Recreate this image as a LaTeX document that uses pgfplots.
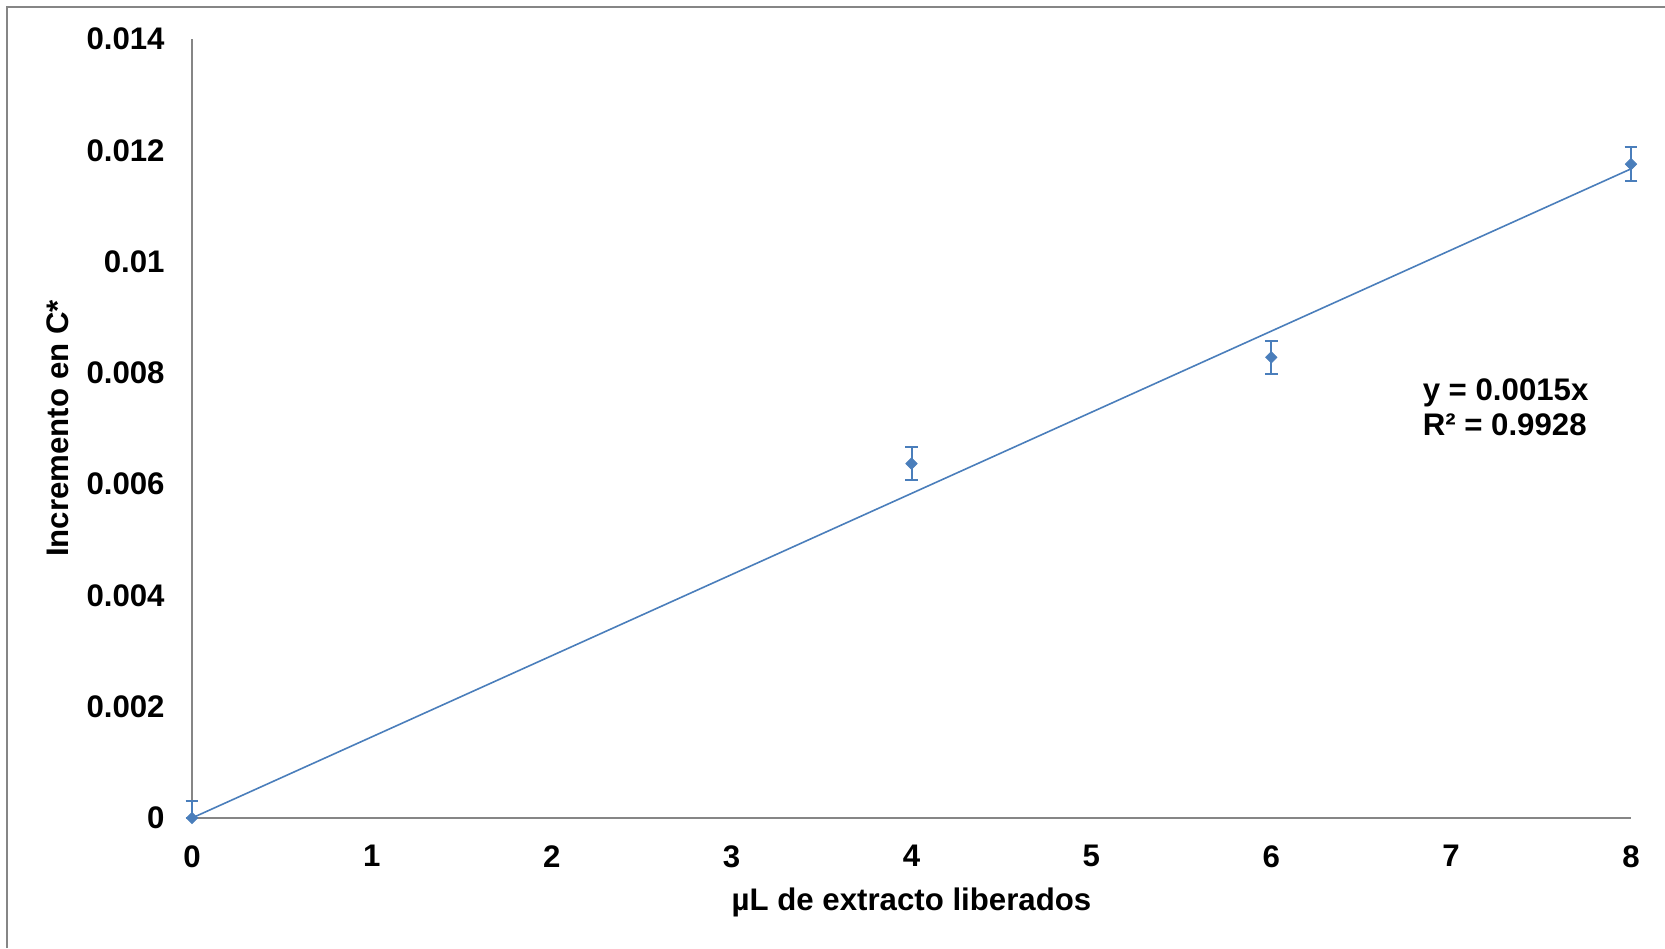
\documentclass[border=0pt]{standalone}
\usepackage{pgfplots}
\pgfplotsset{compat=1.18}
\usepackage{fontspec}
\setmainfont{Liberation Sans}
\definecolor{xlblue}{HTML}{4A7EBB}
\definecolor{axgray}{HTML}{868686}
\begin{document}
\begin{tikzpicture}
\path[use as bounding box] (0,0) rectangle (832.5pt,474pt);
\draw[color=axgray, line width=1pt] (3.5pt,0) -- (3.5pt,470.5pt) -- (832.5pt,470.5pt);
\begin{axis}[
  at={(96pt,65pt)}, anchor=south west,
  scale only axis, width=719.5pt, height=389.5pt,
  xmin=0, xmax=8, ymin=0, ymax=0.014,
  clip=false,
  axis x line=bottom, axis y line=left,
  axis line style={-, draw=axgray, line width=0.8pt},
  major tick length=0pt,
  xtick={0,1,2,3,4,5,6,7,8},
  xticklabels={0,1,2,3,4,5,6,7,8},
  ytick={0,0.002,0.004,0.006,0.008,0.01,0.012,0.014},
  yticklabels={0,0.002,0.004,0.006,0.008,0.01,0.012,0.014},
  scaled y ticks=false,
  every tick label/.append style={font=\fontsize{15.6}{18}\selectfont\bfseries, inner sep=0pt},
  yticklabel style={anchor=east, xshift=-13.5pt},
  xticklabel style={anchor=north, yshift=-13.5pt},
  xlabel={µL de extracto liberados},
  ylabel={Incremento en C*},
  label style={font=\fontsize{15.6}{18}\selectfont\bfseries},
  xlabel style={at={(axis description cs:0.5,0)}, anchor=center, yshift=-42pt},
  ylabel style={at={(axis description cs:0,0.5)}, anchor=center, yshift=67pt},
]
\addplot[color=xlblue, line width=0.8pt, no marks] coordinates {(0,0) (8,0.011666)};
\addplot[color=xlblue, only marks, mark=square*, mark size=2pt,
  mark options={rotate=45, fill=xlblue, draw=xlblue},
  error bars/.cd, y dir=both, y explicit,
  error bar style={line width=1pt, color=xlblue},
  error mark options={rotate=90, mark size=3.2pt, line width=1pt, color=xlblue}]
  coordinates {
  (0,0) += (0,0.0003) -= (0,0)
  (4,0.00637) +- (0,0.0003)
  (6,0.00828) +- (0,0.0003)
  (8,0.01175) +- (0,0.0003)
};
\node[anchor=west, align=left, inner sep=0pt, font=\fontsize{15.6}{17.5}\selectfont\bfseries] at (axis cs:6.84,0.00738) {y = 0.0015x\\R² = 0.9928};
\end{axis}
\end{tikzpicture}
\end{document}
